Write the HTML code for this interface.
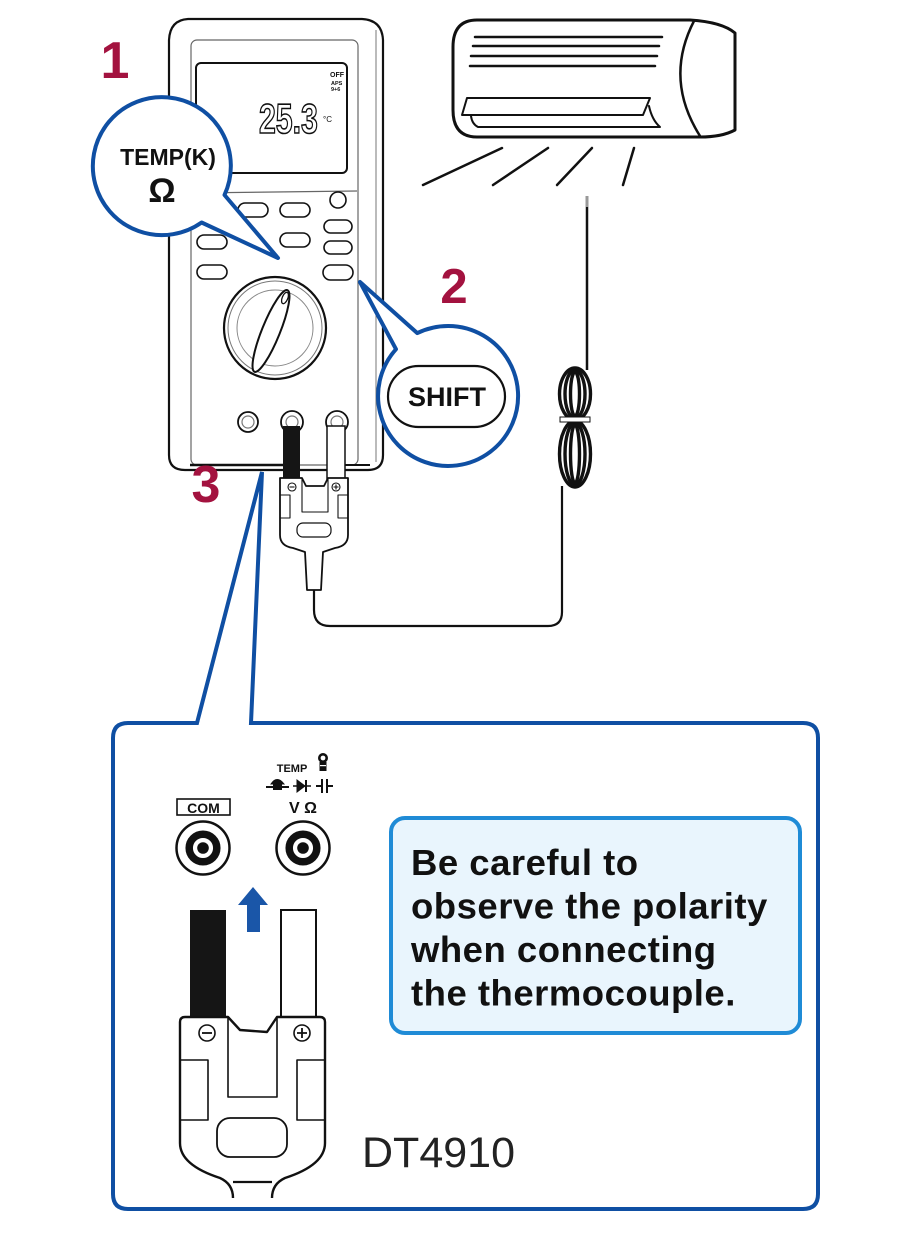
<!DOCTYPE html>
<html><head><meta charset="utf-8">
<style>
html,body{margin:0;padding:0;background:#fff;}
svg{display:block;}
</style></head><body>
<svg width="900" height="1238" viewBox="0 0 900 1238" xmlns="http://www.w3.org/2000/svg" font-family="Liberation Sans, Arial, sans-serif">
<rect width="900" height="1238" fill="#fff"/>

<!-- AC unit -->
<g fill="none" stroke="#111" stroke-linecap="round" stroke-linejoin="round">
  <path d="M477,20 L690,20 Q722,22 735,33 L735,130 Q722,137 700,137 L477,137 Q453,137 453,110 L453,47 Q453,20 477,20 Z" fill="#fff" stroke-width="3"/>
  <path d="M694,21 Q664,79 700,136" stroke-width="2.5"/>
  <g stroke-width="2.5">
    <line x1="475" y1="37" x2="662" y2="37"/>
    <line x1="473" y1="46" x2="659" y2="46"/>
    <line x1="471" y1="56" x2="657" y2="56"/>
    <line x1="470" y1="66" x2="655" y2="66"/>
  </g>
  <path d="M467,98 L650,98 L643,115 L462,115 Z" stroke-width="2"/>
  <path d="M471,116 Q472,124 478,127 L660,127 Q652,120 649,106" stroke-width="2"/>
  <g stroke-width="2.5">
    <line x1="502" y1="148" x2="423" y2="185"/>
    <line x1="548" y1="148" x2="493" y2="185"/>
    <line x1="592" y1="148" x2="557" y2="185"/>
    <line x1="634" y1="148" x2="623" y2="185"/>
  </g>
</g>

<!-- thermocouple rod and coil -->
<line x1="587" y1="206" x2="587" y2="370" stroke="#111" stroke-width="2.5"/>
<line x1="587" y1="196" x2="587" y2="207" stroke="#999" stroke-width="3"/>
<g fill="none" stroke="#111" stroke-width="3.4">
  <ellipse cx="575" cy="394" rx="15.5" ry="26"/>
  <ellipse cx="575" cy="394" rx="10" ry="24"/>
  <ellipse cx="575" cy="394" rx="4.5" ry="22"/>
  <ellipse cx="575" cy="454" rx="15.5" ry="33"/>
  <ellipse cx="575" cy="454" rx="10" ry="31"/>
  <ellipse cx="575" cy="454" rx="4.5" ry="29"/>
</g>
<rect x="560" y="417" width="30" height="5" fill="#fff" stroke="#111" stroke-width="1"/>
<!-- cable -->
<path d="M314,590 L314,610 Q314,626 330,626 L548,626 Q562,626 562,612 L562,486" fill="none" stroke="#111" stroke-width="2.2"/>

<!-- Meter body -->
<path d="M188,19 L362,19 Q382,20 383,40 L383,455 Q383,470 368,470 L185,470 Q169,470 169,455 L169,40 Q170,20 188,19 Z" fill="#fff" stroke="#111" stroke-width="2.2"/>
<line x1="376" y1="30" x2="376" y2="462" stroke="#777" stroke-width="1"/>
<rect x="191" y="40" width="167" height="425" rx="6" fill="none" stroke="#666" stroke-width="1.2"/>
<rect x="196" y="63" width="151" height="110" rx="5" fill="#fff" stroke="#111" stroke-width="2"/>
<text x="0" y="0" transform="translate(259,133) scale(0.72,1)" font-size="42" fill="#fff" stroke="#111" stroke-width="1.6" font-weight="bold">25.3</text>
<text x="323" y="122" font-size="8" fill="#111">°C</text>
<text x="330" y="77" font-size="7" font-weight="bold" fill="#111">OFF</text>
<text x="331" y="85" font-size="5.5" font-weight="bold" fill="#111">APS</text>
<text x="331" y="91" font-size="5.5" font-weight="bold" fill="#111">9+6</text>
<line x1="191" y1="193" x2="357" y2="191" stroke="#666" stroke-width="1.2"/>
<!-- buttons -->
<g fill="#fff" stroke="#111" stroke-width="1.6">
  <rect x="238" y="203" width="30" height="14" rx="7"/>
  <rect x="280" y="203" width="30" height="14" rx="7"/>
  <circle cx="338" cy="200" r="8"/>
  <rect x="324" y="220" width="28" height="13" rx="6.5"/>
  <rect x="280" y="233" width="30" height="14" rx="7"/>
  <rect x="197" y="235" width="30" height="14" rx="7"/>
  <rect x="324" y="241" width="28" height="13" rx="6.5"/>
  <rect x="197" y="265" width="30" height="14" rx="7"/>
  <rect x="323" y="265" width="30" height="15" rx="7.5"/>
</g>
<!-- dial -->
<circle cx="275" cy="328" r="51" fill="#fff" stroke="#111" stroke-width="2.2"/>
<circle cx="275" cy="328" r="47" fill="none" stroke="#777" stroke-width="1"/>
<circle cx="275" cy="328" r="38" fill="none" stroke="#888" stroke-width="1"/>
<ellipse cx="271" cy="331" rx="9" ry="44" transform="rotate(22 271 331)" fill="#fff" stroke="#111" stroke-width="2"/>
<ellipse cx="285" cy="298" rx="2.8" ry="6" transform="rotate(22 285 298)" fill="none" stroke="#111" stroke-width="1.3"/>
<!-- jacks -->
<g fill="#fff" stroke="#111" stroke-width="1.8">
  <circle cx="248" cy="422" r="10"/>
  <circle cx="248" cy="422" r="6" stroke="#777" stroke-width="1.2"/>
  <circle cx="292" cy="422" r="11"/>
  <circle cx="292" cy="422" r="6" stroke="#777" stroke-width="1.2"/>
  <circle cx="337" cy="422" r="11"/>
  <circle cx="337" cy="422" r="6" stroke="#777" stroke-width="1.2"/>
</g>
<line x1="190" y1="465" x2="283" y2="465" stroke="#111" stroke-width="2.5"/>
<line x1="345" y1="465" x2="370" y2="465" stroke="#111" stroke-width="2"/>
<rect x="283" y="426" width="17" height="53" fill="#151515"/>
<rect x="327" y="426" width="18" height="53" fill="#fff" stroke="#111" stroke-width="1.5"/>

<!-- upper plug -->
<g stroke="#111" fill="#fff" stroke-linejoin="round">
  <path d="M280,478 L302,478 L306,486 L324,486 L328,478 L348,478 L348,535 Q348,546 335,548 L323,552 L321,590 L307,590 L305,552 L293,548 Q280,546 280,535 Z" stroke-width="1.8"/>
  <path d="M302,478 L302,512 L328,512 L328,478" fill="none" stroke-width="1.1"/>
  <path d="M280,495 L290,495 L290,518 L280,518 M348,495 L338,495 L338,518 L348,518" fill="none" stroke-width="1.1"/>
  <rect x="297" y="523" width="34" height="14" rx="6" stroke-width="1.2"/>
  <circle cx="292" cy="487" r="4" stroke-width="1.1"/>
  <line x1="289.5" y1="487" x2="294.5" y2="487" stroke-width="1.1"/>
  <circle cx="336" cy="487" r="4" stroke-width="1.1"/>
  <path d="M333.5,487 L338.5,487 M336,484.5 L336,489.5" stroke-width="1.1"/>
</g>

<!-- Bubble 1 -->
<path d="M224.5,195 L278,258 L201.6,222.5 A69,69 0 1 1 224.5,195 Z" fill="#fff" stroke="#0f4fa3" stroke-width="4" stroke-linejoin="round"/>
<text x="168" y="165" font-size="23" font-weight="bold" text-anchor="middle" fill="#111">TEMP(K)</text>
<text x="162" y="202" font-size="34" font-weight="bold" text-anchor="middle" fill="#111">Ω</text>

<!-- Bubble 2 -->
<path d="M417.3,333.1 L360,282 L396,349.2 A70,70 0 1 0 417.3,333.1 Z" fill="#fff" stroke="#0f4fa3" stroke-width="4" stroke-linejoin="round"/>
<rect x="388" y="366" width="117" height="61" rx="30.5" fill="#fff" stroke="#111" stroke-width="2.2"/>
<text x="447" y="406" font-size="27" font-weight="bold" text-anchor="middle" fill="#111">SHIFT</text>

<!-- numbers -->
<text x="115" y="78" font-size="52" font-weight="bold" text-anchor="middle" fill="#a3123f">1</text>
<text x="454" y="303" font-size="49" font-weight="bold" text-anchor="middle" fill="#a3123f">2</text>
<text x="206" y="502" font-size="52" font-weight="bold" text-anchor="middle" fill="#a3123f">3</text>

<!-- Big callout box -->
<path d="M197,723 L262,472 L251,723 L803,723 Q818,723 818,738 L818,1194 Q818,1209 803,1209 L128,1209 Q113,1209 113,1194 L113,738 Q113,723 128,723 Z" fill="#fff" stroke="#0f4fa3" stroke-width="4" stroke-linejoin="miter"/>

<!-- lower labels -->
<rect x="177" y="799" width="53" height="16" fill="#fff" stroke="#111" stroke-width="1.6"/>
<text x="203.5" y="813" font-size="14" font-weight="bold" text-anchor="middle" fill="#111">COM</text>
<text x="303" y="813" font-size="16" font-weight="bold" text-anchor="middle" fill="#111">V Ω</text>
<text x="292" y="772" font-size="11" font-weight="bold" text-anchor="middle" fill="#111">TEMP</text>
<!-- bulb -->
<g fill="#111">
  <circle cx="323" cy="758" r="5"/>
  <circle cx="323" cy="758" r="2.4" fill="#fff"/>
  <rect x="319.5" y="762" width="7" height="9"/>
  <rect x="320" y="765" width="6" height="1.2" fill="#fff"/>
</g>
<!-- buzzer icon -->
<g fill="#111" stroke="#111">
  <path d="M271,784 Q277,775 284,784 Z" stroke-width="1"/>
  <line x1="266" y1="787" x2="289" y2="787" stroke-width="2"/>
  <rect x="273" y="784" width="9" height="6" stroke="none"/>
</g>
<!-- diode -->
<g fill="#111" stroke="#111">
  <line x1="293" y1="786" x2="311" y2="786" stroke-width="1.6"/>
  <path d="M297,780 L305,786 L297,792 Z"/>
  <line x1="306" y1="780" x2="306" y2="792" stroke-width="2"/>
</g>
<!-- capacitor -->
<g stroke="#111" stroke-width="2">
  <line x1="316" y1="786" x2="322" y2="786"/>
  <line x1="322" y1="779" x2="322" y2="793"/>
  <line x1="327" y1="779" x2="327" y2="793"/>
  <line x1="327" y1="786" x2="333" y2="786"/>
</g>

<!-- lower jacks -->
<g>
  <circle cx="203" cy="848" r="26.5" fill="#fff" stroke="#111" stroke-width="2.5"/>
  <circle cx="203" cy="848" r="13.8" fill="none" stroke="#111" stroke-width="7.5"/>
  <circle cx="203" cy="848" r="5.8" fill="#111"/>
  <circle cx="303" cy="848" r="26.5" fill="#fff" stroke="#111" stroke-width="2.5"/>
  <circle cx="303" cy="848" r="13.8" fill="none" stroke="#111" stroke-width="7.5"/>
  <circle cx="303" cy="848" r="5.8" fill="#111"/>
</g>

<!-- blue arrow -->
<path d="M253,887 L268,905 L260,905 L260,932 L247,932 L247,905 L238,905 Z" fill="#1a56a8"/>

<!-- lower plug -->
<rect x="190" y="910" width="36" height="108" fill="#151515"/>
<rect x="281" y="910" width="35" height="108" fill="#fff" stroke="#111" stroke-width="2"/>
<g stroke="#111" fill="#fff" stroke-linejoin="round">
  <path d="M185,1017 L228,1017 L240,1030 L267,1032 L277,1017 L320,1017 Q325,1017 325,1022 L325,1143 Q325,1165 285,1178 Q272,1184 272,1198 M233,1198 Q233,1184 220,1178 Q180,1165 180,1143 L180,1022 Q180,1017 185,1017" stroke-width="2.4"/>
  <path d="M233,1182 L272,1182" fill="none" stroke-width="2.2"/>
  <path d="M228,1017 L228,1097 L277,1097 L277,1017" fill="none" stroke-width="1.6"/>
  <path d="M181,1060 L208,1060 L208,1120 L181,1120 M324,1060 L297,1060 L297,1120 L324,1120" fill="none" stroke-width="1.6"/>
  <rect x="217" y="1118" width="70" height="39" rx="13" stroke-width="1.8"/>
  <circle cx="207" cy="1033" r="8" stroke-width="1.6"/>
  <line x1="202" y1="1033" x2="212" y2="1033" stroke-width="1.8"/>
  <circle cx="302" cy="1033" r="8" stroke-width="1.6"/>
  <path d="M297,1033 L307,1033 M302,1028 L302,1038" stroke-width="1.8"/>
</g>
<text x="362" y="1167" font-size="43" fill="#222">DT4910</text>

<!-- note box -->
<rect x="391" y="818" width="409" height="215" rx="14" fill="#e9f5fd" stroke="#1f8bd6" stroke-width="4"/>
<g font-size="36.5" font-weight="bold" fill="#111" letter-spacing="0.5">
  <text x="411" y="875">Be careful to</text>
  <text x="411" y="918.5">observe the polarity</text>
  <text x="411" y="962">when connecting</text>
  <text x="411" y="1005.5">the thermocouple.</text>
</g>
</svg>
</body></html>
